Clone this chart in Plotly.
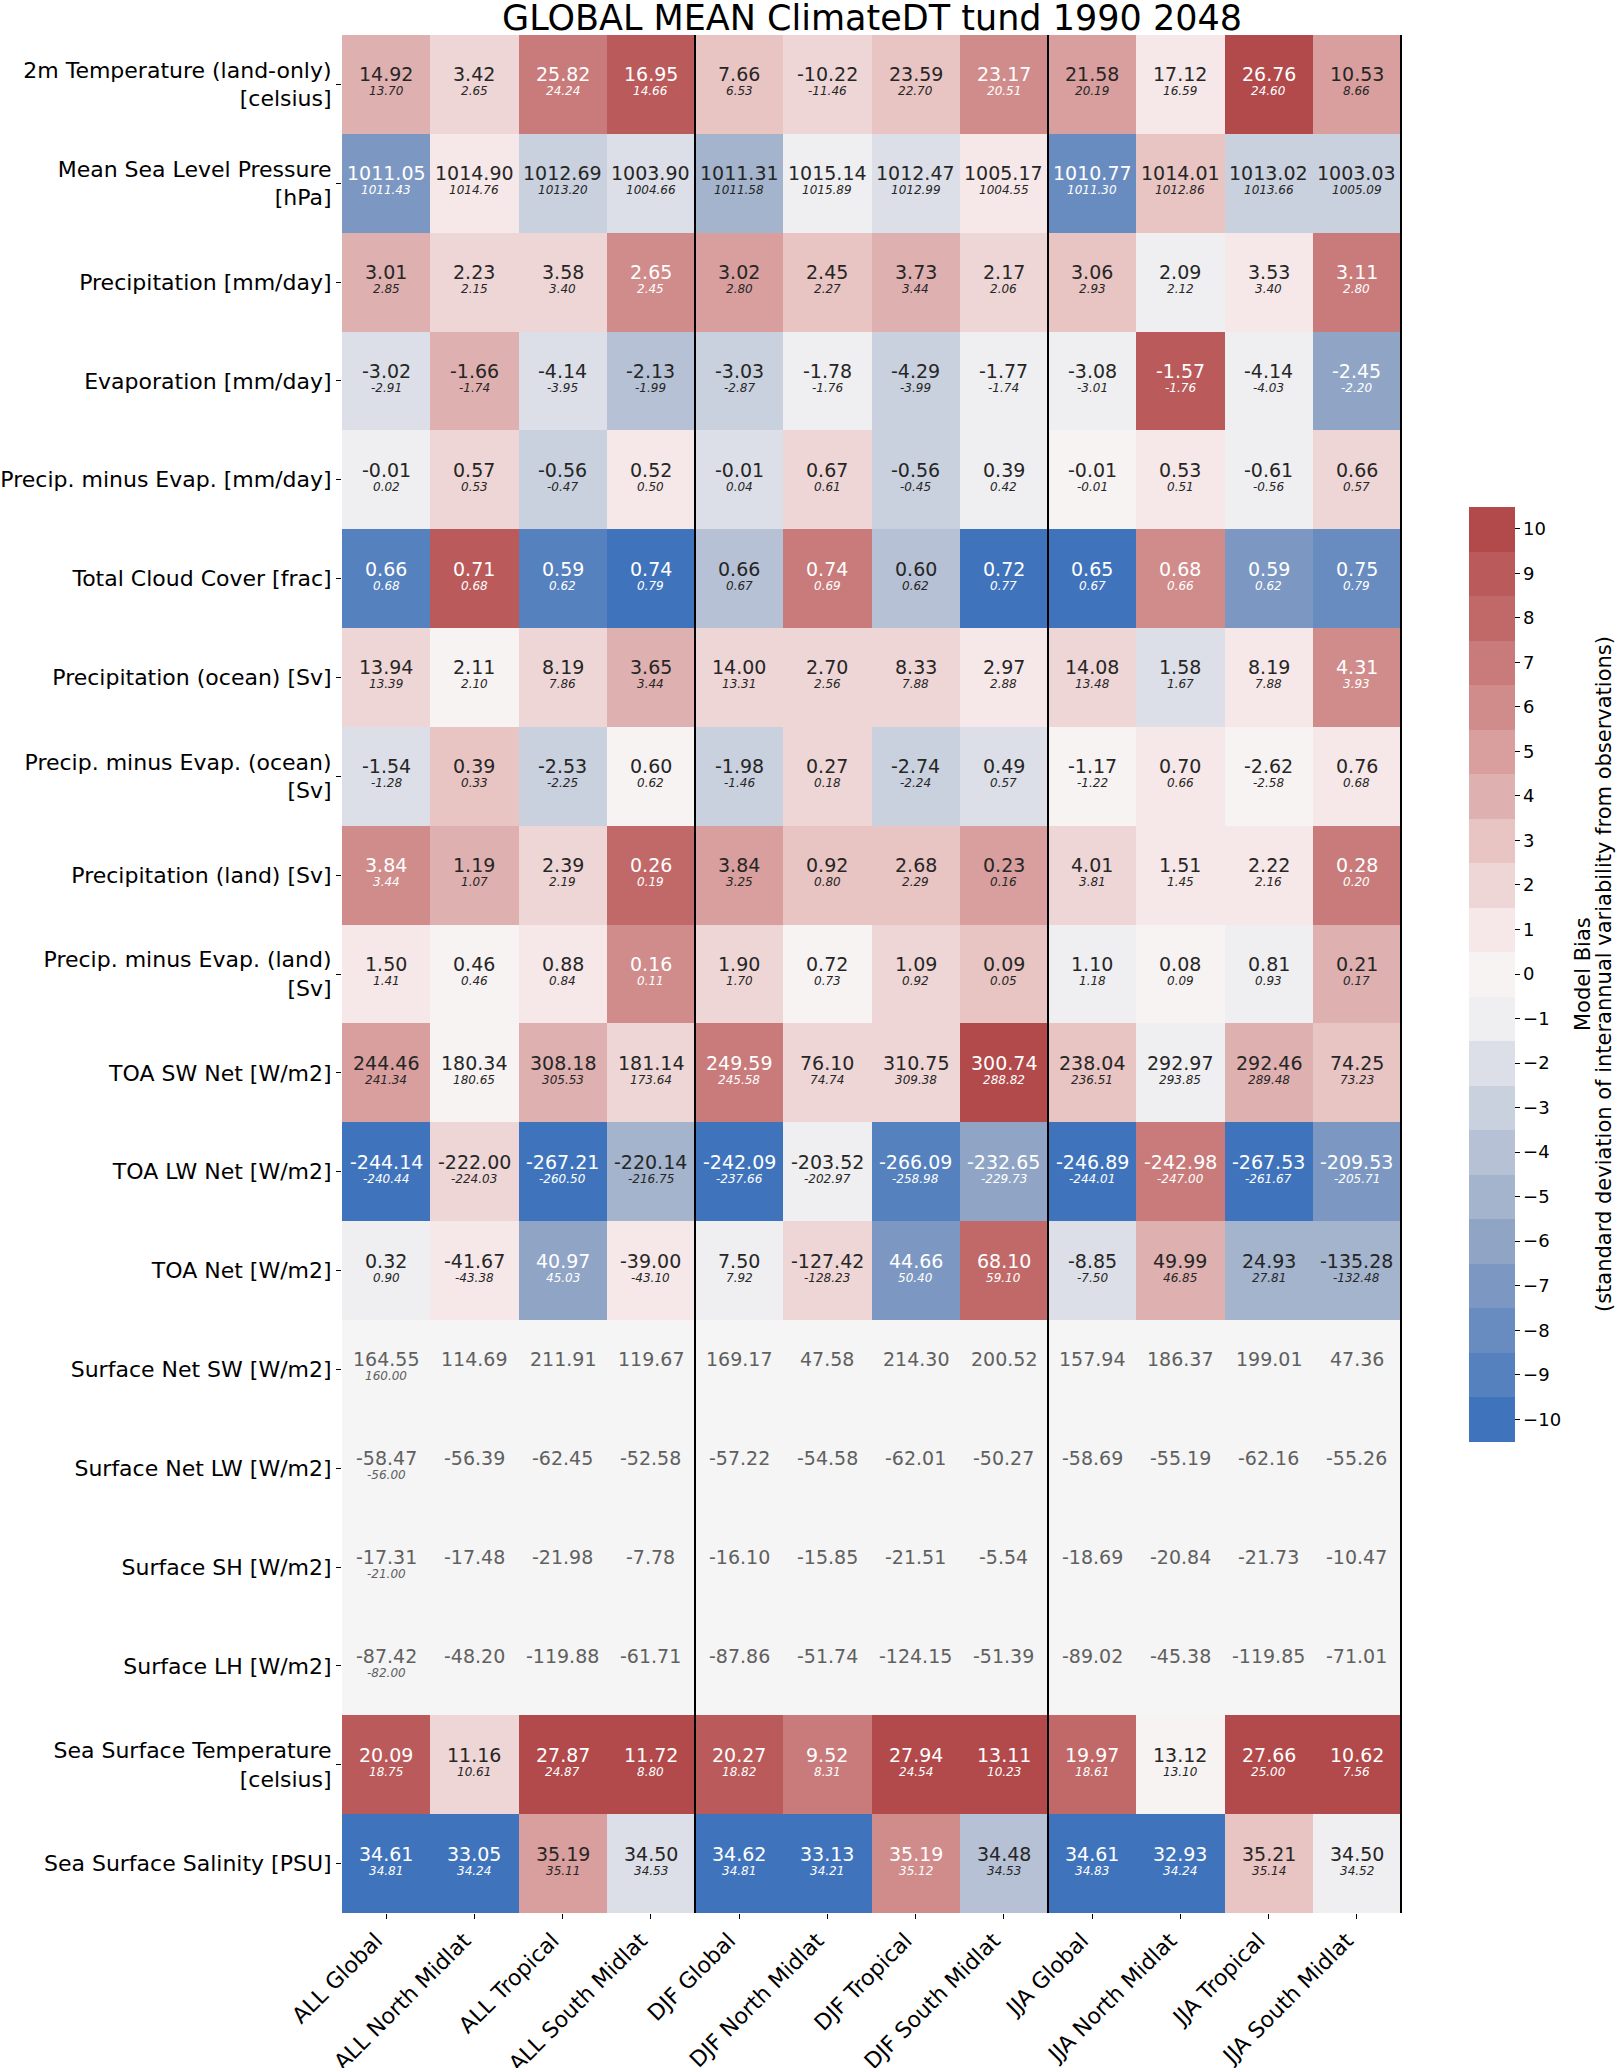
import plotly.graph_objects as go

title = "GLOBAL MEAN ClimateDT tund 1990 2048"
cbar_title_1 = "Model Bias"
cbar_title_2 = "(standard deviation of interannual variability from observations)"

columns = ["ALL Global", "ALL North Midlat", "ALL Tropical", "ALL South Midlat",
           "DJF Global", "DJF North Midlat", "DJF Tropical", "DJF South Midlat",
           "JJA Global", "JJA North Midlat", "JJA Tropical", "JJA South Midlat"]

row_labels = ["2m Temperature (land-only)<br>[celsius]",
              "Mean Sea Level Pressure<br>[hPa]",
              "Precipitation [mm/day]",
              "Evaporation [mm/day]",
              "Precip. minus Evap. [mm/day]",
              "Total Cloud Cover [frac]",
              "Precipitation (ocean) [Sv]",
              "Precip. minus Evap. (ocean)<br>[Sv]",
              "Precipitation (land) [Sv]",
              "Precip. minus Evap. (land)<br>[Sv]",
              "TOA SW Net [W/m2]",
              "TOA LW Net [W/m2]",
              "TOA Net [W/m2]",
              "Surface Net SW [W/m2]",
              "Surface Net LW [W/m2]",
              "Surface SH [W/m2]",
              "Surface LH [W/m2]",
              "Sea Surface Temperature<br>[celsius]",
              "Sea Surface Salinity [PSU]"]

# model values (large numbers)
model_values = [
    [14.92, 3.42, 25.82, 16.95, 7.66, -10.22, 23.59, 23.17, 21.58, 17.12, 26.76, 10.53],
    [1011.05, 1014.90, 1012.69, 1003.90, 1011.31, 1015.14, 1012.47, 1005.17, 1010.77, 1014.01, 1013.02, 1003.03],
    [3.01, 2.23, 3.58, 2.65, 3.02, 2.45, 3.73, 2.17, 3.06, 2.09, 3.53, 3.11],
    [-3.02, -1.66, -4.14, -2.13, -3.03, -1.78, -4.29, -1.77, -3.08, -1.57, -4.14, -2.45],
    [-0.01, 0.57, -0.56, 0.52, -0.01, 0.67, -0.56, 0.39, -0.01, 0.53, -0.61, 0.66],
    [0.66, 0.71, 0.59, 0.74, 0.66, 0.74, 0.60, 0.72, 0.65, 0.68, 0.59, 0.75],
    [13.94, 2.11, 8.19, 3.65, 14.00, 2.70, 8.33, 2.97, 14.08, 1.58, 8.19, 4.31],
    [-1.54, 0.39, -2.53, 0.60, -1.98, 0.27, -2.74, 0.49, -1.17, 0.70, -2.62, 0.76],
    [3.84, 1.19, 2.39, 0.26, 3.84, 0.92, 2.68, 0.23, 4.01, 1.51, 2.22, 0.28],
    [1.50, 0.46, 0.88, 0.16, 1.90, 0.72, 1.09, 0.09, 1.10, 0.08, 0.81, 0.21],
    [244.46, 180.34, 308.18, 181.14, 249.59, 76.10, 310.75, 300.74, 238.04, 292.97, 292.46, 74.25],
    [-244.14, -222.00, -267.21, -220.14, -242.09, -203.52, -266.09, -232.65, -246.89, -242.98, -267.53, -209.53],
    [0.32, -41.67, 40.97, -39.00, 7.50, -127.42, 44.66, 68.10, -8.85, 49.99, 24.93, -135.28],
    [164.55, 114.69, 211.91, 119.67, 169.17, 47.58, 214.30, 200.52, 157.94, 186.37, 199.01, 47.36],
    [-58.47, -56.39, -62.45, -52.58, -57.22, -54.58, -62.01, -50.27, -58.69, -55.19, -62.16, -55.26],
    [-17.31, -17.48, -21.98, -7.78, -16.10, -15.85, -21.51, -5.54, -18.69, -20.84, -21.73, -10.47],
    [-87.42, -48.20, -119.88, -61.71, -87.86, -51.74, -124.15, -51.39, -89.02, -45.38, -119.85, -71.01],
    [20.09, 11.16, 27.87, 11.72, 20.27, 9.52, 27.94, 13.11, 19.97, 13.12, 27.66, 10.62],
    [34.61, 33.05, 35.19, 34.50, 34.62, 33.13, 35.19, 34.48, 34.61, 32.93, 35.21, 34.50],
]

# observation values (small italic numbers); None where not shown
N = None
obs_values = [
    [13.70, 2.65, 24.24, 14.66, 6.53, -11.46, 22.70, 20.51, 20.19, 16.59, 24.60, 8.66],
    [1011.43, 1014.76, 1013.20, 1004.66, 1011.58, 1015.89, 1012.99, 1004.55, 1011.30, 1012.86, 1013.66, 1005.09],
    [2.85, 2.15, 3.40, 2.45, 2.80, 2.27, 3.44, 2.06, 2.93, 2.12, 3.40, 2.80],
    [-2.91, -1.74, -3.95, -1.99, -2.87, -1.76, -3.99, -1.74, -3.01, -1.76, -4.03, -2.20],
    [0.02, 0.53, -0.47, 0.50, 0.04, 0.61, -0.45, 0.42, -0.01, 0.51, -0.56, 0.57],
    [0.68, 0.68, 0.62, 0.79, 0.67, 0.69, 0.62, 0.77, 0.67, 0.66, 0.62, 0.79],
    [13.39, 2.10, 7.86, 3.44, 13.31, 2.56, 7.88, 2.88, 13.48, 1.67, 7.88, 3.93],
    [-1.28, 0.33, -2.25, 0.62, -1.46, 0.18, -2.24, 0.57, -1.22, 0.66, -2.58, 0.68],
    [3.44, 1.07, 2.19, 0.19, 3.25, 0.80, 2.29, 0.16, 3.81, 1.45, 2.16, 0.20],
    [1.41, 0.46, 0.84, 0.11, 1.70, 0.73, 0.92, 0.05, 1.18, 0.09, 0.93, 0.17],
    [241.34, 180.65, 305.53, 173.64, 245.58, 74.74, 309.38, 288.82, 236.51, 293.85, 289.48, 73.23],
    [-240.44, -224.03, -260.50, -216.75, -237.66, -202.97, -258.98, -229.73, -244.01, -247.00, -261.67, -205.71],
    [0.90, -43.38, 45.03, -43.10, 7.92, -128.23, 50.40, 59.10, -7.50, 46.85, 27.81, -132.48],
    [160.00, N, N, N, N, N, N, N, N, N, N, N],
    [-56.00, N, N, N, N, N, N, N, N, N, N, N],
    [-21.00, N, N, N, N, N, N, N, N, N, N, N],
    [-82.00, N, N, N, N, N, N, N, N, N, N, N],
    [18.75, 10.61, 24.87, 8.80, 18.82, 8.31, 24.54, 10.23, 18.61, 13.10, 25.00, 7.56],
    [34.81, 34.24, 35.11, 34.53, 34.81, 34.21, 35.12, 34.53, 34.83, 34.24, 35.14, 34.52],
]

# model bias (std. dev. of interannual variability), estimated from the colours
bias = [
    [4, 2, 7, 9, 3, 2, 3, 6, 5, 1, 10, 5],
    [-7, 1, -3, -2, -5, -1, -2, 1, -8, 3, -3, -3],
    [4, 2, 2, 6, 5, 3, 4, 2, 3, -1, 1, 7],
    [-2, 4, -2, -4, -3, -1, -3, -1, -1, 9, -1, -6],
    [-1, 2, -3, 1, -2, 2, -3, -1, 0, 1, -1, 2],
    [-9, 9, -9, -10, -4, 7, -4, -10, -10, 6, -7, -8],
    [2, 0, 2, 4, 2, 2, 2, 1, 2, -2, 1, 6],
    [-2, 3, -3, 0, -3, 2, -3, -2, 0, 1, 0, 1],
    [6, 4, 2, 8, 5, 3, 3, 5, 2, 1, 1, 7],
    [1, 0, 1, 6, 2, 0, 2, 3, -1, 0, -1, 4],
    [5, 0, 4, 2, 7, 2, 2, 10, 3, -1, 4, 3],
    [-10, 2, -10, -5, -10, -1, -9, -6, -10, 7, -10, -7],
    [-1, 1, -6, 1, -1, 2, -7, 8, -2, 4, -5, -5],
    [N] * 12,
    [N] * 12,
    [N] * 12,
    [N] * 12,
    [9, 2, 10, 10, 9, 7, 10, 10, 8, 0, 10, 10],
    [-10, -10, 5, -2, -10, -10, 6, -4, -10, -10, 3, -1],
]

cbar_ticks = list(range(-10, 11))

palette = ["#3F74BD", "#5581BE", "#698CC0", "#7C98C2", "#90A5C5", "#A3B4CC",
           "#B6C1D5", "#C9D0DE", "#DCDFE7", "#EFEFF1", "#F8F3F3", "#F6E8E8",
           "#EFD6D6", "#E8C4C3", "#DFB0B0", "#D89F9E", "#D08C8B", "#C87B7A",
           "#C16969", "#BA5A5B", "#B2494A"]

nb = len(palette)
colorscale = []
for i, c in enumerate(palette):
    colorscale.append([i / nb, c])
    colorscale.append([(i + 1) / nb, c])

FONT = "DejaVu Sans"

fig = go.Figure(go.Heatmap(
    z=bias, x=columns, y=row_labels,
    colorscale=colorscale, zmin=-10.5, zmax=10.5,
    hoverinfo="skip",
    colorbar=dict(
        thickness=46, thicknessmode="pixels",
        len=0.498, lenmode="fraction",
        x=1.063, xanchor="left", xpad=0,
        y=0.5, yanchor="middle", ypad=0,
        outlinewidth=0,
        tickvals=cbar_ticks,
        ticktext=[str(t).replace("-", "\u2212") for t in cbar_ticks],
        ticks="outside", ticklen=5, tickwidth=1, tickcolor="black",
        tickfont=dict(family=FONT, size=18, color="black"),
    ),
))

annotations = []
for i, row in enumerate(row_labels):
    for j, col in enumerate(columns):
        b = bias[i][j]
        if b is None:
            color = "#606060"
        elif abs(b) >= 6:
            color = "white"
        else:
            color = "#262626"
        annotations.append(dict(
            x=col, y=row, xref="x", yref="y",
            text=f"{model_values[i][j]:.2f}", showarrow=False,
            yshift=10, font=dict(family=FONT, size=19, color=color)))
        o = obs_values[i][j]
        if o is not None:
            annotations.append(dict(
                x=col, y=row, xref="x", yref="y",
                text=f"<i>{o:.2f}</i>", showarrow=False,
                yshift=-7, font=dict(family=FONT, size=12, color=color)))

for xp, txt in [(1.1708, cbar_title_1), (1.1906, cbar_title_2)]:
    annotations.append(dict(
        x=xp, y=0.5, xref="paper", yref="paper", text=txt,
        textangle=-90, showarrow=False, xanchor="center", yanchor="middle",
        font=dict(family=FONT, size=21, color="black")))

shapes = []
for xb in [3.5, 7.5, 11.5]:
    shapes.append(dict(type="line", xref="x", yref="paper", x0=xb, x1=xb, y0=0, y1=1,
                       line=dict(color="black", width=2)))

fig.update_layout(
    width=1619, height=2068,
    margin=dict(l=342, r=217, t=35, b=155, autoexpand=False),
    paper_bgcolor="white", plot_bgcolor="#F5F5F5",
    title=dict(text=title, x=0.5, xref="paper", xanchor="center",
               y=1 - 18 / 2068, yref="container", yanchor="middle",
               font=dict(family=FONT, size=35, color="black")),
    annotations=annotations, shapes=shapes,
    font=dict(family=FONT, color="black"),
)
fig.update_xaxes(tickangle=-45, ticks="outside", ticklen=5, tickcolor="black",
                 tickfont=dict(family=FONT, size=22, color="black"),
                 ticklabelshift=-10,
                 showgrid=False, zeroline=False, showline=False, automargin=False)
fig.update_yaxes(autorange="reversed", ticks="outside", ticklen=5, tickcolor="black",
                 tickfont=dict(family=FONT, size=22, color="black"),
                 showgrid=False, zeroline=False, showline=False, automargin=False)

fig.write_html("out.html", config={"displayModeBar": False},
               post_script="document.body.style.margin='0';document.body.style.overflow='hidden';")
